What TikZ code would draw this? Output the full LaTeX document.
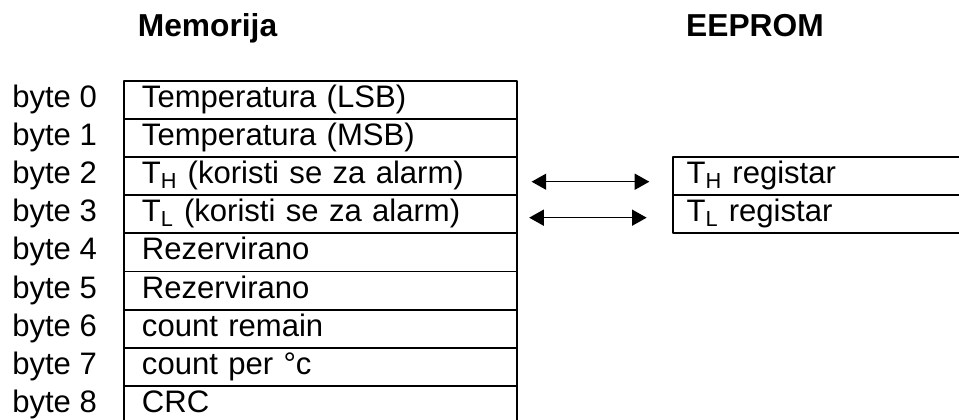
\documentclass[tikz,border=0pt]{standalone}
\usepackage{fontspec}
\setmainfont{Liberation Sans}
\usetikzlibrary{arrows.meta}

\begin{document}
\begin{tikzpicture}[line cap=round,line join=round,x=0.75pt,y=-0.75pt,
    txt/.style={font=\fontsize{23.3}{28}\selectfont, inner sep=0pt, execute at begin node=\strut},
    head/.style={font=\bfseries\fontsize{23.8}{28.5}\selectfont, inner sep=0pt, anchor=base},
    bytelbl/.style={txt, anchor=west},
    cell/.style={txt, draw, line width=1.4pt, line cap=rect, minimum height=28.575pt, inner xsep=13.5pt, text width=267.5pt, align=left},
    ecell/.style={cell, inner xsep=10.5pt, text width=262.5pt},
    link/.style={{Triangle[length=11pt,width=12pt]}-{Triangle[length=11pt,width=12pt]}, line width=1.1pt, line join=miter}]
    \useasboundingbox (0,0) rectangle (959,420);

    % naslovi
    \node [head] (hmem) at (207.5,36.7) {Memorija};
    \node [head] (heep) at (755,36.7) {EEPROM};

    % memorija
    \node [cell] (m0) at (320.3,100.05) {Temperatura (LSB)};
    \node [cell] (m1) at (320.3,138.15) {Temperatura (MSB)};
    \node [cell] (m2) at (320.3,176.25) {T\textsubscript{H} (koristi se za alarm)};
    \node [cell] (m3) at (320.3,214.35) {T\textsubscript{L} (koristi se za alarm)};
    \node [cell] (m4) at (320.3,252.45) {Rezervirano};
    \node [cell] (m5) at (320.3,290.55) {Rezervirano};
    \node [cell] (m6) at (320.3,328.65) {count remain};
    \node [cell] (m7) at (320.3,366.75) {count per °c};
    \node [cell] (m8) at (320.3,404.85) {CRC};

    \node [bytelbl] (b0) at (12,100.05) {byte 0};
    \node [bytelbl] (b1) at (12,138.15) {byte 1};
    \node [bytelbl] (b2) at (12,176.25) {byte 2};
    \node [bytelbl] (b3) at (12,214.35) {byte 3};
    \node [bytelbl] (b4) at (12,252.45) {byte 4};
    \node [bytelbl] (b5) at (12,290.55) {byte 5};
    \node [bytelbl] (b6) at (12,328.65) {byte 6};
    \node [bytelbl] (b7) at (12,366.75) {byte 7};
    \node [bytelbl] (b8) at (12,404.85) {byte 8};

    % EEPROM
    \node [ecell] (e2) at (861.7,176.25) {T\textsubscript{H} registar};
    \node [ecell] (e3) at (861.7,214.35) {T\textsubscript{L} registar};

    \draw [link, shorten <=10.5pt, shorten >=16.8pt] ([yshift=-4.1pt]m2.east) -- ([yshift=-4.1pt]e2.west);
    \draw [link, shorten <=8.7pt, shorten >=18.8pt] ([yshift=-2.5pt]m3.east) -- ([yshift=-2.5pt]e3.west);
\end{tikzpicture}
\end{document}
